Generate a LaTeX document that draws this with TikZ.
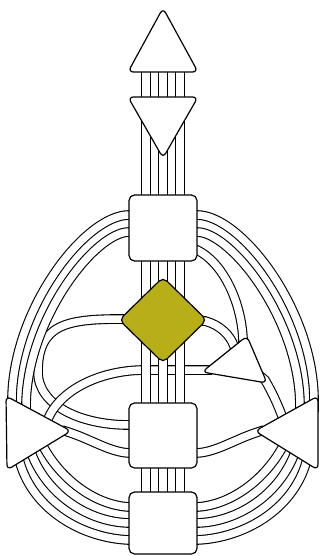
\documentclass[tikz,border=0pt]{standalone}
\usetikzlibrary{shapes.geometric}
\definecolor{gcol}{RGB}{183,174,24}
\begin{document}
\begin{tikzpicture}[x=1pt,y=-1pt,
  chan/.style={draw=black, line width=1.1pt, double=white, double distance=7.5pt},
  hdshape/.style={draw=black, line width=1.2pt, fill=white, rounded corners=5.5pt, line join=round},
  sqbox/.style={hdshape, rectangle, minimum width=68pt, minimum height=66pt, inner sep=0pt},
  gdiam/.style={hdshape, diamond, fill=gcol, minimum width=88pt, minimum height=86pt, inner sep=0pt}]
\useasboundingbox (0,0) rectangle (322,556);

% ---- channel end points
\coordinate (thL1) at (129,215);  \coordinate (spT1) at (12,401);
\coordinate (thL2) at (129,232);  \coordinate (spT2) at (26,407);
\coordinate (thR1) at (197,215);  \coordinate (soT1) at (314,401);
\coordinate (thR2) at (197,232);  \coordinate (soT2) at (300,407);
\coordinate (thR3) at (197,250);  \coordinate (heT)  at (243,339);
\coordinate (gL)   at (121,319);  \coordinate (saL1) at (129,425);
\coordinate (gR)   at (205,321);  \coordinate (heT2) at (234,346);
\coordinate (heL)  at (204,370);  \coordinate (spT3) at (48,419);
\coordinate (heB)  at (265,380);  \coordinate (soT3) at (282,416);
\coordinate (spA)  at (71,433);   \coordinate (saL2) at (129,453);
\coordinate (soA)  at (255,433);  \coordinate (saR)  at (197,453);
\coordinate (spB1) at (44,448);   \coordinate (roL1) at (129,507);
\coordinate (spB2) at (32,455);   \coordinate (roL2) at (129,523);
\coordinate (spB3) at (20,463);   \coordinate (roL3) at (129,540);
\coordinate (soB1) at (282,448);  \coordinate (roR1) at (197,507);
\coordinate (soB2) at (294,455);  \coordinate (roR2) at (197,523);
\coordinate (soB3) at (306,463);  \coordinate (roR3) at (197,540);

% ---- channels
% G -> loop -> sacral
\draw[chan] ([xshift=8pt]gL) -- (gL) .. controls (65,319) and (38,325) .. (38,372)
  .. controls (38,405) and (80,425) .. (saL1) -- ([xshift=8pt]saL1);
% throat -> spleen
\draw[chan] ([xshift=8pt]thL1) -- (thL1) .. controls (85,215) and (12,310) .. (spT1) -- (12,412);
\draw[chan] ([xshift=8pt]thL2) -- (thL2) .. controls (95,232) and (26,320) .. (spT2) -- (26,418);
% throat -> solar plexus
\draw[chan] ([xshift=-8pt]thR1) -- (thR1) .. controls (241,215) and (314,310) .. (soT1) -- (314,412);
\draw[chan] ([xshift=-8pt]thR2) -- (thR2) .. controls (231,232) and (300,320) .. (soT2) -- (300,418);
% heart -> spleen
\draw[chan] (212,370) -- (heL) -- (145,370) .. controls (100,370) and (60,390) .. (spT3) -- (44,428);
% throat -> heart, G -> heart, heart -> solar plexus
\draw[chan] ([xshift=-8pt]thR3) -- (thR3) .. controls (222,262) and (241,300) .. (heT) -- (243,348);
\draw[chan] (196,321) -- (gR) .. controls (220,325) and (230,335) .. (heT2) -- (236,353);
\draw[chan] (258,374) -- (heB) .. controls (272,392) and (278,405) .. (soT3) -- (284,424);
% spleen / solar plexus -> sacral
\draw[chan] (62,430) -- (spA) .. controls (92,440) and (110,452) .. (saL2) -- ([xshift=8pt]saL2);
\draw[chan] (264,430) -- (soA) .. controls (234,440) and (216,452) .. (saR) -- ([xshift=-8pt]saR);
% spleen -> root
\draw[chan] (37,438) -- (spB1) .. controls (62,480) and (95,505) .. (roL1) -- ([xshift=8pt]roL1);
\draw[chan] (28,445) -- (spB2) .. controls (48,495) and (88,522) .. (roL2) -- ([xshift=8pt]roL2);
\draw[chan] (17,453) -- (spB3) .. controls (34,510) and (82,538) .. (roL3) -- ([xshift=8pt]roL3);
% solar plexus -> root
\draw[chan] (289,438) -- (soB1) .. controls (264,480) and (231,505) .. (roR1) -- ([xshift=-8pt]roR1);
\draw[chan] (298,445) -- (soB2) .. controls (278,495) and (238,522) .. (roR2) -- ([xshift=-8pt]roR2);
\draw[chan] (309,453) -- (soB3) .. controls (292,510) and (244,538) .. (roR3) -- ([xshift=-8pt]roR3);
% central column
\foreach \cx in {146.2,163,179.8}
  \draw[chan] (\cx,62) -- (\cx,500);

% ---- centres
\draw[hdshape] (163,8) -- (198,72) -- (128,72) -- cycle;
\draw[hdshape] (128,97) -- (198,97) -- (163,158) -- cycle;
\node[sqbox] (throat) at (163,228) {};
\node[gdiam] (g) at (163,320) {};
\draw[hdshape] (202,372) -- (247,336) -- (267,383) -- cycle;
\draw[hdshape] (6,396) -- (71,431) -- (7,470) -- cycle;
\draw[hdshape] (318,396) -- (318,470) -- (255,431) -- cycle;
\node[sqbox, minimum height=65pt] (sacral) at (163,435.5) {};
\node[sqbox, minimum height=62pt] (root) at (163,523) {};
\end{tikzpicture}
\end{document}
